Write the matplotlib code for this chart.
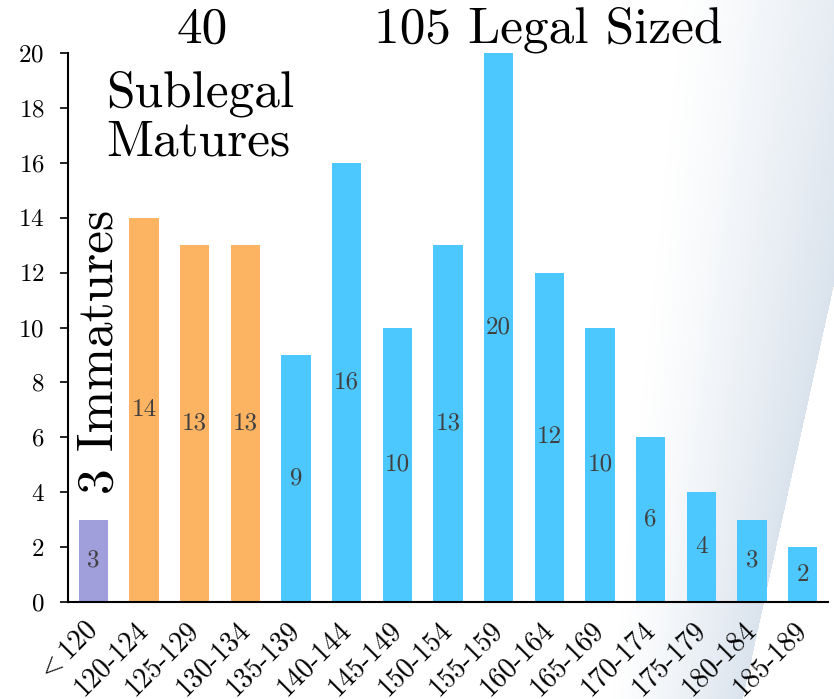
import numpy as np
import matplotlib.pyplot as plt
import matplotlib.transforms as mtransforms

# datos
categorias = ['$<$120', '120-124', '125-129', '130-134', '135-139', '140-144', '145-149',
              '150-154', '155-159', '160-164', '165-169', '170-174', '175-179', '180-184', '185-189']
valores = [3, 14, 13, 13, 9, 16, 10, 13, 20, 12, 10, 6, 4, 3, 2]
grupos = ['inmaduro', 'sublegal', 'sublegal', 'sublegal'] + ['legal'] * 11
colores_grupo = {'inmaduro': '#a09edb', 'sublegal': '#fdb462', 'legal': '#4dc8ff'}

plt.rcParams['font.family'] = ['cmr10', 'DejaVu Serif']
plt.rcParams['mathtext.fontset'] = 'cm'
plt.rcParams['axes.formatter.use_mathtext'] = True

W, H = 834, 699
fig = plt.figure(figsize=(W / 100, H / 100), dpi=100)

# fondo degradado (estilo diapositiva)
yy, xx = np.mgrid[0:H, 0:W].astype(float)
borde = 896 - 0.22 * yy
inicio = 680 - 0.1 * yy
alpha = np.clip((xx - inicio) / (borde - inicio), 0, 1) ** 1.2
alpha[xx > borde] = 0
img = np.zeros((H, W, 4))
img[..., 0] = 218 / 255
img[..., 1] = 227 / 255
img[..., 2] = 237 / 255
img[..., 3] = alpha
bg = fig.add_axes([0, 0, 1, 1], zorder=-1)
bg.imshow(img, aspect='auto', interpolation='bilinear')
bg.axis('off')

ax = fig.add_axes([68 / W, (H - 602) / H, (828 - 68) / W, (602 - 53) / H])
ax.set_facecolor('none')

x = np.arange(len(valores))
cols = [colores_grupo[g] for g in grupos]
ax.bar(x, valores, width=0.58, color=cols, zorder=2)
for xi, v in zip(x, valores):
    ax.text(xi, v / 2, str(v), ha='center', va='center', fontsize=18, color='#404040', zorder=3)

ax.set_xlim(-0.5, 14.5)
ax.set_ylim(0, 20)
ax.set_yticks(range(0, 21, 2))
ax.set_xticks(x)
ax.set_xticklabels(categorias, rotation=45, ha='right', va='center', rotation_mode='anchor', fontsize=20)
desplaza = mtransforms.ScaledTranslation(6 / 100, 0, fig.dpi_scale_trans)
for lab in ax.get_xticklabels():
    lab.set_transform(lab.get_transform() + desplaza)
ax.tick_params(axis='y', labelsize=18, direction='out', length=6, width=1.2, pad=11)
ax.tick_params(axis='x', length=0, pad=17)
for s in ['top', 'right']:
    ax.spines[s].set_visible(False)
ax.spines['left'].set_linewidth(1.5)
ax.spines['bottom'].set_linewidth(1.5)

# textos de grupos
fig.text(202 / W, 1 - 30 / H, '40', ha='center', va='center', fontsize=37)
fig.text(548 / W, 1 - 30 / H, '105 Legal Sized', ha='center', va='center', fontsize=37)
fig.text(106 / W, 1 - 118 / H, 'Sublegal\nMatures', ha='left', va='center', fontsize=37,
         linespacing=1.1)
fig.text(100 / W, 1 - 352 / H, '3 Immatures', ha='center', va='center', fontsize=37,
         rotation=90)

plt.savefig('out.png', dpi=100)
